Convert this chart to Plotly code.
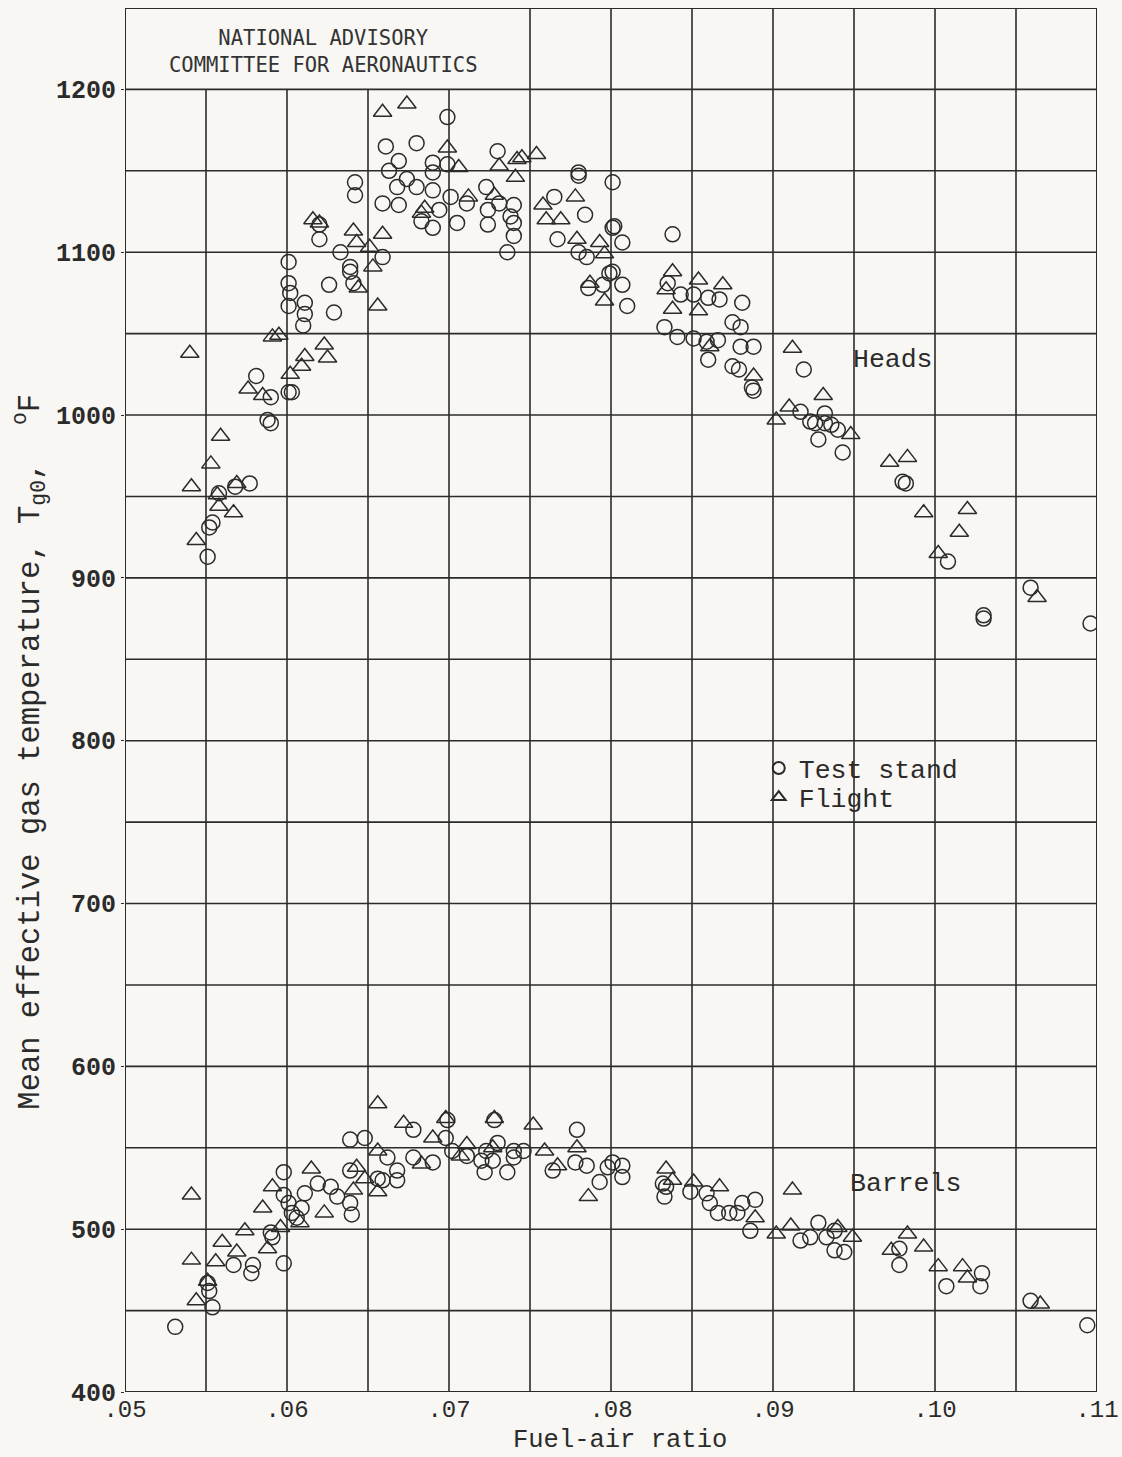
import plotly.graph_objects as go

# ---------------- data ----------------
# Cylinder heads, test-stand runs (fuel-air ratio, mean effective gas temperature degF)
heads_stand_far = [
    .0551, .0552, .0554, .0558, .0568, .0577, .0581, .0590, .0588, .0590,
    .0601, .0603, .0601, .0601, .0602, .0601, .0611, .0611, .0610, .0626,
    .0629, .0620, .0620, .0633, .0639, .0639, .0641, .0642, .0642, .0659,
    .0661, .0680, .0659, .0669, .0669, .0663, .0668, .0674, .0680, .0690,
    .0690, .0690, .0683, .0690, .0694, .0699, .0699, .0701, .0705, .0711,
    .0723, .0724, .0730, .0731, .0738, .0740, .0736, .0740, .0740, .0724,
    .0765, .0784, .0767, .0780, .0780, .0801, .0801, .0802, .0807, .0780,
    .0785, .0799, .0801, .0807, .0795, .0786, .0810, .0838, .0835, .0843,
    .0851, .0860, .0867, .0881, .0833, .0841, .0851, .0859, .0866, .0860,
    .0875, .0880, .0880, .0888, .0875, .0879, .0919, .0887, .0888, .0917,
    .0923, .0926, .0932, .0932, .0936, .0940, .0928, .0943, .0980, .0982,
    .1008, .1030, .1030, .1059, .1096,
]
heads_stand_temp = [
    913, 931, 934, 952, 956, 958, 1024, 1011, 997, 995,
    1014, 1014, 1094, 1081, 1075, 1067, 1069, 1062, 1055, 1080,
    1063, 1117, 1108, 1100, 1091, 1088, 1081, 1143, 1135, 1097,
    1165, 1167, 1130, 1129, 1156, 1150, 1140, 1145, 1140, 1155,
    1149, 1138, 1119, 1115, 1126, 1183, 1154, 1134, 1118, 1130,
    1140, 1117, 1162, 1130, 1122, 1110, 1100, 1129, 1118, 1126,
    1134, 1123, 1108, 1147, 1149, 1143, 1115, 1116, 1106, 1100,
    1097, 1087, 1088, 1080, 1080, 1078, 1067, 1111, 1081, 1074,
    1074, 1072, 1071, 1069, 1054, 1048, 1047, 1045, 1046, 1034,
    1057, 1054, 1042, 1042, 1030, 1028, 1028, 1017, 1015, 1002,
    996, 995, 1001, 995, 994, 991, 985, 977, 959, 958,
    910, 877, 875, 894, 872,
]

# Cylinder heads, flight runs
heads_flight_far = [
    .0540, .0541, .0544, .0553, .0559, .0557, .0558, .0567, .0569, .0576,
    .0585, .0591, .0595, .0602, .0609, .0611, .0623, .0625, .0616, .0620,
    .0641, .0643, .0659, .0651, .0653, .0644, .0656, .0659, .0674, .0699,
    .0706, .0731, .0742, .0741, .0712, .0728, .0685, .0683, .0745, .0754,
    .0758, .0760, .0769, .0778, .0779, .0793, .0796, .0787, .0796, .0838,
    .0834, .0854, .0869, .0838, .0854, .0861, .0912, .0888, .0931, .0902,
    .0910, .0948, .0972, .0983, .0993, .1020, .1015, .1002, .1063,
]
heads_flight_temp = [
    1038, 956, 923, 970, 987, 951, 944, 940, 958, 1016,
    1012, 1048, 1049, 1025, 1030, 1036, 1043, 1035, 1120, 1118,
    1113, 1106, 1111, 1103, 1091, 1078, 1067, 1186, 1191, 1164,
    1152, 1153, 1157, 1146, 1134, 1135, 1127, 1124, 1158, 1160,
    1129, 1120, 1120, 1134, 1108, 1106, 1099, 1081, 1070, 1088,
    1077, 1083, 1080, 1065, 1064, 1042, 1041, 1024, 1012, 997,
    1005, 988, 971, 974, 940, 942, 928, 915, 888,
]

# Cylinder barrels, test-stand runs
barrels_stand_far = [
    .0531, .0554, .0552, .0551, .0567, .0578, .0579, .0598, .0590, .0591,
    .0598, .0598, .0601, .0603, .0609, .0611, .0606, .0619, .0627, .0631,
    .0639, .0640, .0639, .0639, .0648, .0659, .0656, .0668, .0668, .0662,
    .0678, .0678, .0690, .0699, .0698, .0702, .0711, .0720, .0722, .0728,
    .0730, .0736, .0740, .0723, .0727, .0740, .0746, .0764, .0779, .0778,
    .0785, .0793, .0798, .0807, .0807, .0801, .0832, .0833, .0834, .0849,
    .0859, .0861, .0866, .0873, .0878, .0881, .0889, .0886, .0917, .0923,
    .0928, .0933, .0938, .0938, .0944, .0978, .0978, .1007, .1029, .1028,
    .1059, .1094,
]
barrels_stand_temp = [
    440, 452, 462, 467, 478, 473, 478, 479, 498, 495,
    535, 521, 516, 510, 513, 522, 507, 528, 526, 520,
    516, 509, 536, 555, 556, 530, 531, 536, 530, 544,
    561, 544, 541, 567, 556, 548, 545, 542, 535, 567,
    553, 535, 548, 548, 542, 544, 548, 536, 561, 541,
    539, 529, 538, 539, 532, 541, 528, 520, 526, 523,
    522, 516, 510, 510, 510, 516, 518, 499, 493, 495,
    504, 495, 499, 487, 486, 488, 478, 465, 473, 465,
    456, 441,
]

# Cylinder barrels, flight runs
barrels_flight_far = [
    .0541, .0541, .0544, .0551, .0556, .0560, .0569, .0574, .0585, .0591,
    .0588, .0596, .0608, .0615, .0623, .0641, .0643, .0648, .0656, .0656,
    .0656, .0672, .0683, .0690, .0698, .0707, .0711, .0728, .0727, .0752,
    .0759, .0767, .0779, .0786, .0834, .0838, .0851, .0867, .0889, .0912,
    .0902, .0911, .0940, .0949, .0983, .0973, .0993, .1002, .1017, .1020,
    .1065,
]
barrels_flight_temp = [
    521, 481, 456, 468, 480, 492, 486, 499, 513, 526,
    488, 501, 504, 537, 510, 524, 538, 531, 577, 523,
    548, 565, 540, 556, 568, 545, 552, 568, 550, 564,
    548, 539, 550, 520, 537, 530, 529, 526, 507, 524,
    497, 502, 501, 495, 497, 487, 489, 477, 477, 470,
    454,
]

x_ticks = [.05, .06, .07, .08, .09, .10, .11]
x_tick_text = [".05", ".06", ".07", ".08", ".09", ".10", ".11"]
y_ticks = [400, 500, 600, 700, 800, 900, 1000, 1100, 1200]
x_grid = [.055, .06, .065, .07, .075, .08, .085, .09, .095, .10, .105]
y_grid = [450, 500, 550, 600, 650, 700, 750, 800, 850, 900, 950, 1000, 1050, 1100, 1150, 1200]
X_MIN, X_MAX, Y_MIN, Y_TOP, GRID_TOP = .05, .11, 400, 1250, 1200

# ---------------- styling ----------------
INK = "#2b2b2b"
PAPER = "#f8f7f3"
TYPE = "Liberation Mono, Courier New, monospace"

circle_style = dict(symbol="circle-open", size=15, color=INK, line=dict(width=1.5, color=INK))
triangle_style = dict(symbol="triangle-up-open", size=16, color=INK, line=dict(width=1.5, color=INK))

fig = go.Figure()
fig.add_trace(go.Scatter(x=heads_stand_far, y=heads_stand_temp, mode="markers",
                         marker=circle_style, name="Test stand", legend="legend"))
fig.add_trace(go.Scatter(x=heads_flight_far, y=heads_flight_temp, mode="markers",
                         marker=triangle_style, name="Flight", legend="legend2"))
fig.add_trace(go.Scatter(x=barrels_stand_far, y=barrels_stand_temp, mode="markers",
                         marker=circle_style, name="Test stand", showlegend=False))
fig.add_trace(go.Scatter(x=barrels_flight_far, y=barrels_flight_temp, mode="markers",
                         marker=triangle_style, name="Flight", showlegend=False))

# grid and frame; the cells above 1200 on the left hold the agency label
shapes = []
for gx in x_grid:
    top = GRID_TOP if gx < .0725 else Y_TOP
    shapes.append(dict(type="line", xref="x", yref="y", x0=gx, x1=gx, y0=Y_MIN, y1=top,
                       line=dict(color=INK, width=1.6), layer="below"))
for gy in y_grid:
    shapes.append(dict(type="line", xref="x", yref="y", x0=X_MIN, x1=X_MAX, y0=gy, y1=gy,
                       line=dict(color=INK, width=1.6), layer="below"))
shapes.append(dict(type="rect", xref="x", yref="y", x0=X_MIN, x1=X_MAX, y0=Y_MIN, y1=Y_TOP,
                   line=dict(color=INK, width=2), layer="below"))

annotations = [
    dict(text="NATIONAL ADVISORY<br>COMMITTEE FOR AERONAUTICS", xref="x", yref="y",
         x=.06228, y=1223, showarrow=False, align="center",
         font=dict(family="DejaVu Sans Mono", size=20.5, color="#333")),
    dict(text="Heads", xref="x", yref="y", x=.0948, y=1034, xanchor="left", showarrow=False,
         font=dict(family=TYPE, size=26.5, color=INK)),
    dict(text="Barrels", xref="x", yref="y", x=.0946, y=528, xanchor="left", showarrow=False,
         font=dict(family=TYPE, size=26.5, color=INK)),
    dict(text="Mean effective gas temperature, T<sub>g0</sub>,  <sup>o</sup>F", xref="paper", yref="paper",
         x=-0.098, y=0.4625, textangle=-90, showarrow=False, xanchor="center", yanchor="middle",
         font=dict(family=TYPE, size=30.5, color=INK)),
    dict(text="Fuel-air ratio", xref="paper", yref="paper", x=0.509, y=-0.035,
         showarrow=False, xanchor="center", yanchor="middle",
         font=dict(family=TYPE, size=25.5, color=INK)),
]

legend_common = dict(xanchor="left", yanchor="top", bgcolor="rgba(0,0,0,0)",
                     font=dict(family=TYPE, size=26.5, color=INK), itemsizing="constant")

fig.update_layout(
    width=1122, height=1457,
    margin=dict(l=125, r=25, t=8, b=65, autoexpand=False),
    paper_bgcolor=PAPER, plot_bgcolor=PAPER,
    shapes=shapes, annotations=annotations,
    showlegend=True,
    legend=dict(x=0.652, y=0.468, **legend_common),
    legend2=dict(x=0.652, y=0.447, **legend_common),
    xaxis=dict(range=[X_MIN, X_MAX], tickvals=x_ticks, ticktext=x_tick_text, showgrid=False,
               zeroline=False, showline=False, ticks="", automargin=False,
               tickfont=dict(family=TYPE, size=24, color=INK)),
    yaxis=dict(range=[Y_MIN, Y_TOP], tickvals=y_ticks, showgrid=False, zeroline=False,
               showline=False, ticks="outside", ticklen=3, tickcolor=INK, automargin=False,
               tickfont=dict(family=TYPE, size=25, color=INK, weight="bold")),
)

fig.write_html("out.html")
